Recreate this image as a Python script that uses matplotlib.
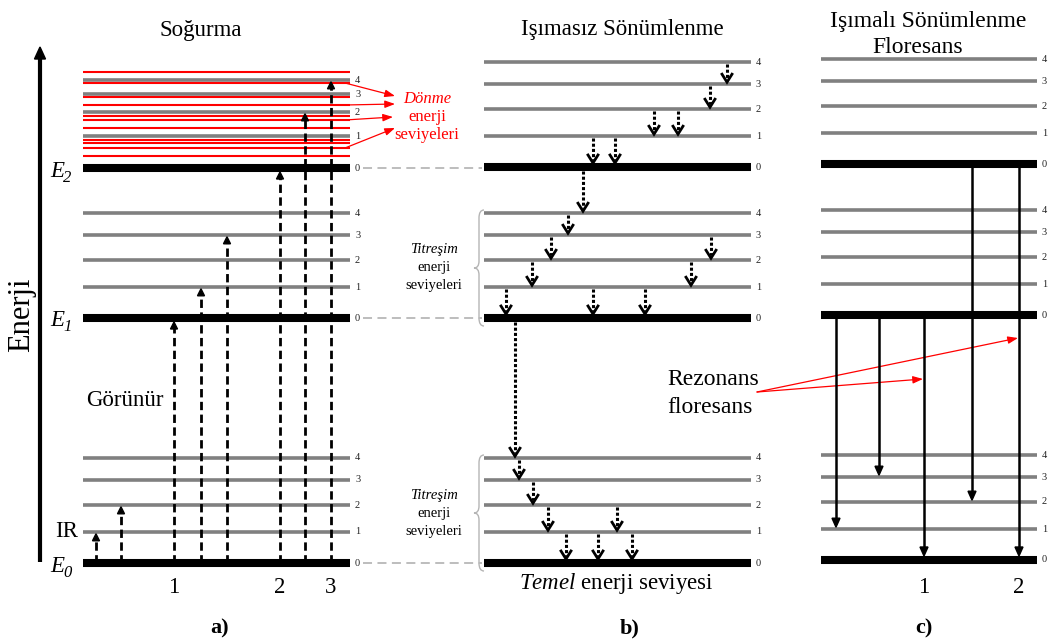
import matplotlib
matplotlib.use('Agg')
import matplotlib.pyplot as plt
from matplotlib.patches import Polygon, PathPatch
from matplotlib.path import Path

plt.rcParams['font.family'] = ['Liberation Serif', 'DejaVu Serif']
plt.rcParams['mathtext.fontset'] = 'custom'
plt.rcParams['mathtext.rm'] = 'Liberation Serif'
plt.rcParams['mathtext.it'] = 'Liberation Serif:italic'

# electronic levels E0, E1, E2 for each panel (energy units, bottom of figure = 0)
elec_a = [81, 326, 476]
elec_b = [81, 326, 477]
elec_c = [84, 329, 480]

# vibrational sub-levels (v = 0..4) above each electronic level
vib = [0, 31, 58, 83, 105]
vib_a_top = [0, 32, 56, 74, 88]            # panel a, E2 band (squeezed by rotational lines)
rot_a_top = [12, 20, 25, 28, 40, 48, 52, 63, 71, 85, 96]
rot_arrow_from = [85, 63, 48, 20]          # rotational lines that point to the label

# horizontal extent of each panel's levels
span_a = (83, 350)
span_b = (484, 751)
span_c = (821, 1037)

# a) absorption, all starting from E0 v=0
abs_x = [96, 121, 174, 201, 227, 280, 305, 331]
abs_to = [(0, 1), (0, 2), (1, 0), (1, 1), (1, 3), (2, 0), (2, 2), (2, 4)]
abs_labels = {174: '1', 280: '2', 331: '3'}

# b) non-radiative relaxation steps
nr_x = [727, 710, 654, 678, 593, 615, 583,
        568, 551, 711, 532, 691, 506, 593, 645, 515,
        519, 533, 548, 617, 566, 598, 632]
nr_from = [(2, 4), (2, 3), (2, 2), (2, 2), (2, 1), (2, 1), (2, 0),
           (1, 4), (1, 3), (1, 3), (1, 2), (1, 2), (1, 1), (1, 1), (1, 1), (1, 0),
           (0, 4), (0, 3), (0, 2), (0, 2), (0, 1), (0, 1), (0, 1)]
nr_to = [(2, 3), (2, 2), (2, 1), (2, 1), (2, 0), (2, 0), (1, 4),
         (1, 3), (1, 2), (1, 2), (1, 1), (1, 1), (1, 0), (1, 0), (1, 0), (0, 4),
         (0, 3), (0, 2), (0, 1), (0, 1), (0, 0), (0, 0), (0, 0)]

# c) fluorescence
fl_x = [972, 1019, 836, 879, 924]
fl_from = [(2, 0), (2, 0), (1, 0), (1, 0), (1, 0)]
fl_to = [(0, 2), (0, 0), (0, 1), (0, 3), (0, 0)]
fl_labels = {924: '1', 1019: '2'}

BAR_HALF = 4.0
LINE_HALF = 1.8
GREY = '#808080'

fig = plt.figure(figsize=(10.55, 6.44), dpi=100)
ax = fig.add_axes([0, 0, 1, 1])
ax.set_xlim(0, 1055)
ax.set_ylim(0, 644)
ax.axis('off')


def level_y(elec, state, top=None):
    e, v = state
    offs = top if (e == 2 and top is not None) else vib
    return elec[e] + offs[v]


def half(state):
    return BAR_HALF if state[1] == 0 else LINE_HALF


def draw_levels(elec, span, top=None):
    x0, x1 = span
    for e in range(3):
        for v in range(5):
            y = level_y(elec, (e, v), top)
            if v == 0:
                ax.plot([x0, x1], [y, y], color='black', lw=5.8,
                        solid_capstyle='butt', zorder=2)
            else:
                ax.plot([x0, x1], [y, y], color=GREY, lw=2.6,
                        solid_capstyle='butt', zorder=2)
            ax.text(x1 + 5, y, str(v), fontsize=7.5, ha='left', va='center',
                    color='#222222')


def brace(x, lo, hi):
    mid = (lo + hi) / 2
    d, t = 5, 10
    verts = [(x, hi), (x - d, hi), (x - d, hi - 8),
             (x - d, mid + 7), (x - d, mid), (x - t, mid),
             (x - d, mid), (x - d, mid - 7),
             (x - d, lo + 8), (x - d, lo), (x, lo)]
    codes = [Path.MOVETO, Path.CURVE3, Path.CURVE3, Path.LINETO,
             Path.CURVE3, Path.CURVE3, Path.CURVE3, Path.CURVE3,
             Path.LINETO, Path.CURVE3, Path.CURVE3]
    ax.add_patch(PathPatch(Path(verts, codes), fill=False,
                           edgecolor='#b5b5b5', lw=1.0))


# ---- a) Soğurma ----
draw_levels(elec_a, span_a, vib_a_top)
for r in rot_a_top:
    y = elec_a[2] + r
    ax.plot(span_a, [y, y], color='red', lw=1.5, solid_capstyle='butt', zorder=2.5)

y0 = elec_a[0]
for x, tgt in zip(abs_x, abs_to):
    tip = level_y(elec_a, tgt, vib_a_top) - half(tgt)
    ax.plot([x, x], [y0, tip - 6], color='black', lw=2,
            linestyle=(0, (3, 1.6)), zorder=4)
    ax.add_patch(Polygon([(x - 3.5, tip - 7), (x + 3.5, tip - 7), (x, tip)],
                         closed=True, color='black', zorder=4))
    if x in abs_labels:
        ax.text(x, 51, abs_labels[x], fontsize=16.5, ha='center', va='baseline')

# energy axis
ax.plot([40, 40], [82, 588], color='black', lw=3, solid_capstyle='butt')
ax.add_patch(Polygon([(34.5, 585), (45.5, 585), (40, 597)], closed=True, color='black'))
ax.text(22, 644 - 315, 'Enerji', fontsize=22, rotation=90,
        ha='center', va='center')

# E0, E1, E2 with italic subscripts
for e, sub in enumerate(['0', '1', '2']):
    base = 644 - [572, 326, 177][e]
    ax.text(50, base, 'E', fontsize=16.5, style='italic', ha='left', va='baseline')
    ax.text(63, base - 5, sub, fontsize=12, style='italic', ha='left', va='baseline')

ax.text(67, 644 - 537, 'IR', fontsize=16.5, ha='center', va='baseline')
ax.text(125, 644 - 406, 'Görünür', fontsize=16.5, ha='center', va='baseline')
ax.text(201, 644 - 36, 'Soğurma', fontsize=16.5, ha='center', va='baseline')
ax.text(220, 644 - 633, 'a)', fontsize=16, fontweight='bold', ha='center', va='baseline')

# rotational label with pointers
rot_ends = [(395, 548), (395, 540), (393, 527), (395, 516)]
for r, end in zip(rot_arrow_from, rot_ends):
    ax.annotate('', xy=end, xytext=(345, elec_a[2] + r),
                arrowprops=dict(arrowstyle='-|>,head_length=0.6,head_width=0.22',
                                color='red', lw=0.9, shrinkA=0, shrinkB=0))
ax.text(427, 644 - 103, 'Dönme', fontsize=12, style='italic', color='red',
        ha='center', va='baseline')
ax.text(427, 644 - 121, 'enerji', fontsize=12, color='red', ha='center', va='baseline')
ax.text(427, 644 - 139, 'seviyeleri', fontsize=12, color='red', ha='center', va='baseline')

# dashed guides between a) and b)
for e in range(3):
    y = elec_a[e]
    ax.plot([363, 482], [y, y], color='#b8b8b8', lw=1.3, linestyle=(0, (5, 3)))

# ---- b) Işımasız Sönümlenme ----
draw_levels(elec_b, span_b)
for x, src, tgt in zip(nr_x, nr_from, nr_to):
    ys = level_y(elec_b, src) - half(src)
    yt = level_y(elec_b, tgt) + half(tgt)
    ax.plot([x, x], [ys, yt + 3], color='black', lw=2.2,
            linestyle=(0, (1, 0.7)), zorder=4)
    ax.plot([x - 5, x, x + 5], [yt + 8, yt, yt + 8], color='black', lw=2,
            solid_joinstyle='miter', zorder=4)

for e in (0, 1):
    brace(span_b[0], elec_b[e] - 8, elec_b[e] + vib[4] + 3)
    base = [499, 253][e]
    ax.text(434, 644 - base, 'Titreşim', fontsize=10.5, style='italic',
            ha='center', va='baseline')
    ax.text(434, 644 - base - 18, 'enerji', fontsize=10.5, ha='center', va='baseline')
    ax.text(434, 644 - base - 36, 'seviyeleri', fontsize=10.5, ha='center', va='baseline')

ax.text(622, 644 - 35, 'Işımasız Sönümlenme', fontsize=16.5, ha='center', va='baseline')
ax.text(616, 644 - 589, r'$\mathit{Temel}$ enerji seviyesi', fontsize=16.5,
        ha='center', va='baseline')
ax.text(630, 644 - 633, 'b)', fontsize=16, fontweight='bold', ha='center', va='baseline')

# ---- c) Işımalı Sönümlenme ----
draw_levels(elec_c, span_c)
for x, src, tgt in zip(fl_x, fl_from, fl_to):
    ys = level_y(elec_c, src) - half(src)
    tip = level_y(elec_c, tgt) + half(tgt)
    ax.plot([x, x], [ys, tip + 8], color='black', lw=1.8, zorder=4)
    ax.add_patch(Polygon([(x - 4, tip + 9), (x + 4, tip + 9), (x, tip)],
                         closed=True, color='black', zorder=4))
    if x in fl_labels:
        ax.text(x, 51, fl_labels[x], fontsize=16.5, ha='center', va='baseline')

ax.text(928, 644 - 27, 'Işımalı Sönümlenme', fontsize=17, ha='center', va='baseline')
ax.text(918, 644 - 53, 'Floresans', fontsize=17, ha='center', va='baseline')
ax.text(924, 644 - 633, 'c)', fontsize=16, fontweight='bold', ha='center', va='baseline')

ax.text(667, 644 - 385, 'Rezonans', fontsize=17, ha='left', va='baseline')
ax.text(667, 644 - 413, 'floresans', fontsize=17, ha='left', va='baseline')
for end in [(1018, 306), (923, 265)]:
    ax.annotate('', xy=end, xytext=(757, 252),
                arrowprops=dict(arrowstyle='-|>,head_length=0.6,head_width=0.22',
                                color='red', lw=0.9, shrinkA=0, shrinkB=0))

fig.savefig('out.png', dpi=100)
